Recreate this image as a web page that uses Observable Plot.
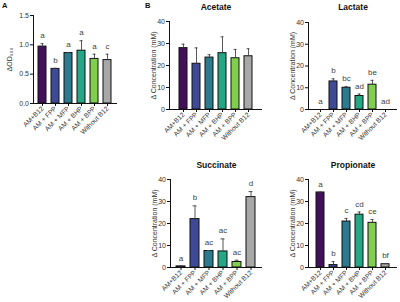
<!DOCTYPE html>
<html>
<head>
<meta charset="utf-8">
<script src="https://cdn.jsdelivr.net/npm/d3@7"></script>
<script src="https://cdn.jsdelivr.net/npm/@observablehq/plot@0.6"></script>
<style>
  html, body { margin: 0; padding: 0; background: #fff; }
  #root { position: relative; width: 400px; height: 302px; overflow: hidden; font-family: Arial, "Liberation Sans", sans-serif; }
  .panel { position: absolute; }
  .panel svg { overflow: visible; }
  .tag { position: absolute; font-weight: bold; font-size: 7.5px; color: #111; }
</style>
</head>
<body>
<div id="root">
  <div class="tag" style="left:2px;top:1px;">A</div>
  <div class="tag" style="left:145px;top:1px;">B</div>
</div>
<script>
const categories = ["AM+B12", "AM + FPP", "AM + MFP", "AM + BHP", "AM + BPP", "Without B12"];
const barColors = ["#43105a", "#3e4a96", "#2b7a8e", "#25a685", "#80cf4e", "#a8a8a8"];

const odValues = [0.97, 0.59, 0.86, 0.90, 0.76, 0.74];
const odErrors = [0.05, 0.01, 0.01, 0.17, 0.08, 0.10];
const odLetters = ["a", "b", "a", "a", "a", "c"];

const acetateValues = [27.9, 20.8, 23.6, 25.6, 23.3, 24.2];
const acetateErrors = [1.8, 7.2, 1.3, 7.4, 4.0, 3.4];
const acetateLetters = ["", "", "", "", "", ""];

const lactateValues = [0, 12.9, 10.0, 6.2, 11.4, 0];
const lactateErrors = [0, 1.2, 0.5, 0.9, 2.0, 0];
const lactateLetters = ["a", "b", "bc", "ad", "be", "ad"];

const succinateValues = [0.5, 22, 7.5, 7.3, 2.5, 32];
const succinateErrors = [0.2, 6, 0.2, 5.7, 0.8, 2.5];
const succinateLetters = ["a", "b", "ac", "ac", "ac", "d"];

const propionateValues = [34.1, 1.1, 20.9, 24.0, 20.3, 1.5];
const propionateErrors = [0.2, 1.6, 1.4, 1.2, 1.5, 0.3];
const propionateLetters = ["a", "b", "c", "cd", "ce", "bf"];

const odTicks = [0, 0.5, 1.0, 1.5];
const concTicks = [0, 10, 20, 30, 40];

function panel(cfg) {
  const data = categories.map((c, i) => ({
    cat: c, v: cfg.values[i], e: cfg.errors[i], top: cfg.values[i] + cfg.errors[i], letter: cfg.letters[i], color: barColors[i]
  }));
  const marks = [
    Plot.barY(data, {x: "cat", y: "v", fill: "color", stroke: "#111", strokeWidth: 1}),
    Plot.ruleX(data.filter(d => d.e > 0), {x: "cat", y1: "v", y2: "top", stroke: "#444", strokeWidth: 0.9}),
    Plot.tickY(data.filter(d => d.e > 0), {x: "cat", y: "top", stroke: "#444", strokeWidth: 0.9, insetLeft: 2.5, insetRight: 2.5}),
    Plot.text(data.filter(d => d.letter), {x: "cat", y: "top", text: "letter", dy: -8, fontSize: 8, fill: "black", fillOpacity: 0.8, lineAnchor: "middle"}),
    Plot.ruleY([0], {stroke: "#111", strokeWidth: 1}),
    Plot.frame({anchor: "left", stroke: "#111", strokeWidth: 1}),
    Plot.axisY({ticks: cfg.ticks, tickFormat: cfg.tickFormat, tickSize: 3, tickPadding: 1.5, fontSize: 7, label: null, stroke: "#111", fill: "#333"}),
    Plot.axisX({tickRotate: -45, tickSize: 3, tickPadding: 1, fontSize: 6.7, label: null, stroke: "#111", fill: "#333"}),
    Plot.text([cfg.ylabel], {frameAnchor: "left", dx: cfg.ylabelDx, rotate: -90, fontSize: 7, fill: "#333", textAnchor: "middle"})
  ];
  if (cfg.title) {
    marks.push(Plot.text([cfg.title], {frameAnchor: "top", dy: cfg.titleDy, fontSize: 8.5, fontWeight: "bold", fill: "#111", lineAnchor: "middle"}));
  }
  const chart = Plot.plot({
    width: cfg.width,
    height: cfg.height,
    marginLeft: cfg.ml, marginRight: cfg.mr, marginTop: cfg.mt, marginBottom: cfg.mb,
    style: {fontFamily: 'Arial, "Liberation Sans", sans-serif', background: "transparent", overflow: "visible"},
    x: {domain: categories, paddingInner: 0.35, paddingOuter: cfg.po, axis: null},
    y: {domain: cfg.domain, axis: null},
    marks
  });
  const wrap = document.createElement("div");
  wrap.className = "panel";
  wrap.style.left = cfg.left + "px";
  wrap.style.top = cfg.top + "px";
  wrap.appendChild(chart);
  document.getElementById("root").appendChild(wrap);
}

panel({values: odValues, errors: odErrors, letters: odLetters, domain: [0, 1.5], ticks: odTicks, tickFormat: ".1f",
  ylabel: "ΔOD₆₀₀", ylabelDx: -24, left: 0, top: 0, width: 122, height: 150, ml: 33, mr: 5, mt: 15, mb: 47, po: 0.22});

panel({values: acetateValues, errors: acetateErrors, letters: acetateLetters, domain: [0, 40], ticks: concTicks, tickFormat: "d",
  title: "Acetate", titleDy: -14, ylabel: "Δ Concentration (mM)", ylabelDx: -16,
  left: 136, top: 0, width: 130, height: 150, ml: 33, mr: 4, mt: 21, mb: 41, po: 0.5});

panel({values: lactateValues, errors: lactateErrors, letters: lactateLetters, domain: [0, 40], ticks: concTicks, tickFormat: "d",
  title: "Lactate", titleDy: -15, ylabel: "Δ Concentration (mM)", ylabelDx: -16,
  left: 275, top: 0, width: 125, height: 150, ml: 33, mr: 3, mt: 22, mb: 41, po: 0.45});

panel({values: succinateValues, errors: succinateErrors, letters: succinateLetters, domain: [0, 40], ticks: concTicks, tickFormat: "d",
  title: "Succinate", titleDy: -14, ylabel: "Δ Concentration (mM)", ylabelDx: -16,
  left: 137, top: 150, width: 129, height: 152, ml: 33, mr: 4, mt: 29, mb: 35, po: 0.45});

panel({values: propionateValues, errors: propionateErrors, letters: propionateLetters, domain: [0, 40], ticks: concTicks, tickFormat: "d",
  title: "Propionate", titleDy: -14, ylabel: "Δ Concentration (mM)", ylabelDx: -16,
  left: 275, top: 150, width: 125, height: 152, ml: 33, mr: 3, mt: 29, mb: 35, po: 0.45});
</script>
</body>
</html>
